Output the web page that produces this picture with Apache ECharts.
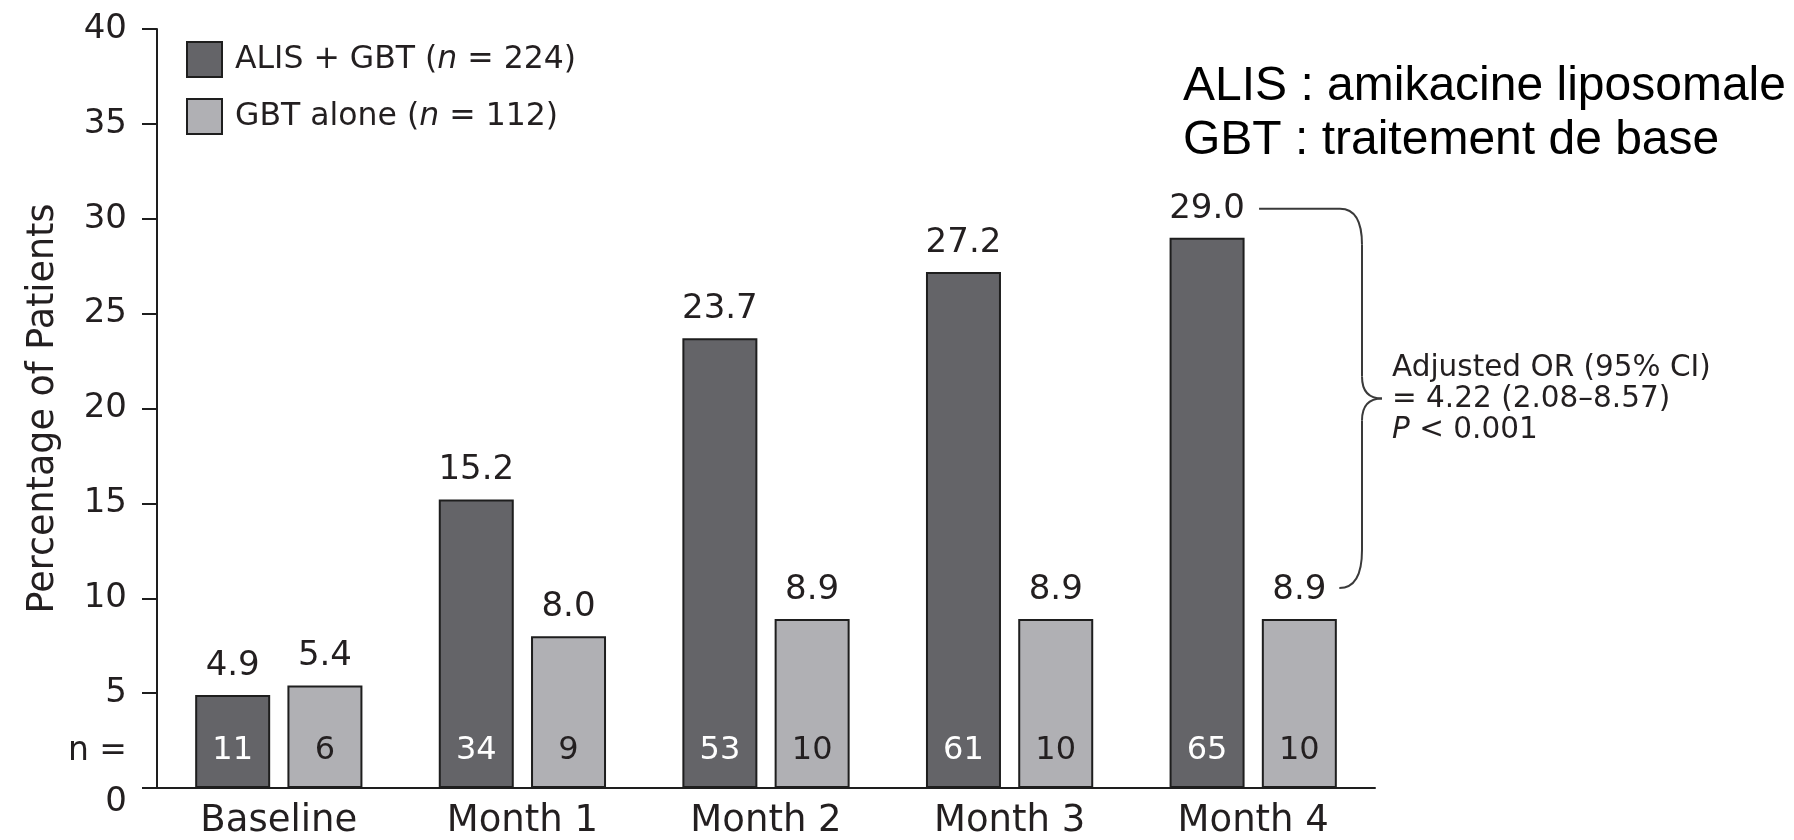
<!DOCTYPE html>
<html>
<head>
<meta charset="utf-8">
<script src="https://cdn.jsdelivr.net/npm/echarts@6/dist/echarts.min.js"></script>
<style>
  html, body { margin: 0; padding: 0; background: #fff; }
  #chart { width: 1794px; height: 840px; }
</style>
</head>
<body>
<div id="chart"></div>
<script>
// Culture conversion by visit, two treatment arms
const categories = ['Baseline', 'Month 1', 'Month 2', 'Month 3', 'Month 4'];
const seriesNames = ['ALIS + GBT', 'GBT alone'];
const groupSizes = [224, 112];
const alisPct = [4.9, 15.2, 23.7, 27.2, 29.0];
const gbtPct = [5.4, 8.0, 8.9, 8.9, 8.9];
const alisN = [11, 34, 53, 61, 65];
const gbtN = [6, 9, 10, 10, 10];
const orLines = ['Adjusted OR (95% CI)', '= 4.22 (2.08\u20138.57)', '{i|P} < 0.001'];
const glossary = ['ALIS : amikacine liposomale', 'GBT : traitement de base'];

const TEXT = '#231f20';
const FONT = '"DejaVu Sans", Verdana, sans-serif';
const NOTE_FONT = '"Liberation Sans", Arial, Helvetica, sans-serif';
const DARK = '#646468';
const LIGHT = '#b0b0b4';
const EDGE = '#1e1e1e';
const FS = 34;          // value labels
const NFS = 32;         // count labels
const VAL_DIST = 12;    // gap between bar top and its value label
const N_DIST = 21;      // gap between axis baseline and the n = row

const chart = echarts.init(document.getElementById('chart'));

// zero-height helper bars that carry the patient counts at the foot of each bar
function countSeries(name, stack, counts, color) {
  return {
    name: name, type: 'bar', stack: stack, z: 4,
    barWidth: 75, barGap: '23%',
    itemStyle: { color: 'rgba(0,0,0,0)', borderWidth: 0 },
    label: {
      show: true, position: 'insideBottom', distance: N_DIST,
      fontFamily: FONT, fontSize: NFS, color: color,
      formatter: p => String(counts[p.dataIndex])
    },
    data: counts.map(() => 0),
    silent: true
  };
}

function pctSeries(name, stack, values, color) {
  return {
    name: name, type: 'bar', stack: stack, z: 2,
    barWidth: 75, barGap: '23%',
    itemStyle: { color: color, borderColor: EDGE, borderWidth: 2 },
    label: {
      show: true, position: 'top', distance: VAL_DIST,
      fontFamily: FONT, fontSize: FS, color: TEXT,
      formatter: p => p.value.toFixed(1)
    },
    data: values
  };
}

const option = {
  animation: false,
  backgroundColor: '#fff',
  textStyle: { fontFamily: FONT, color: TEXT },
  grid: { left: 157, right: 419, top: 29, bottom: 51, containLabel: false },
  legend: {
    data: seriesNames,
    orient: 'vertical', left: 186, top: 41, padding: 0,
    itemWidth: 35, itemHeight: 35, itemGap: 20,
    icon: 'rect',
    itemStyle: { borderColor: EDGE, borderWidth: 2 },
    formatter: name => name + ' ({i|n} = ' + groupSizes[seriesNames.indexOf(name)] + ')',
    textStyle: {
      fontFamily: FONT, fontSize: 31.5, color: TEXT, padding: [0, 0, 0, 8],
      rich: { i: { fontFamily: FONT, fontSize: 31.5, fontStyle: 'italic', color: TEXT } }
    }
  },
  xAxis: {
    type: 'category', data: categories,
    axisLine: { show: true, lineStyle: { color: EDGE, width: 2 } },
    axisTick: { show: false },
    axisLabel: { fontFamily: FONT, fontSize: 37, color: TEXT, margin: 15 }
  },
  yAxis: {
    type: 'value', min: 0, max: 40, interval: 5,
    name: 'Percentage of Patients', nameLocation: 'middle', nameGap: 95,
    nameTextStyle: { fontFamily: FONT, fontSize: 36.5, color: TEXT },
    axisLine: { show: true, lineStyle: { color: EDGE, width: 2 } },
    axisTick: { show: true, inside: false, length: 15, lineStyle: { color: EDGE, width: 2 } },
    splitLine: { show: false },
    axisLabel: {
      fontFamily: FONT, fontSize: 34, color: TEXT, margin: 30,
      formatter: v => v === 0 ? '{z|0}' : String(v),
      rich: { z: { fontFamily: FONT, fontSize: 34, color: TEXT, padding: [28, 0, 0, 0] } }
    }
  },
  series: [
    countSeries('alisCount', 'a', alisN, '#ffffff'),
    pctSeries(seriesNames[0], 'a', alisPct, DARK),
    countSeries('gbtCount', 'b', gbtN, TEXT),
    pctSeries(seriesNames[1], 'b', gbtPct, LIGHT)
  ]
};

chart.setOption(option);

// Odds-ratio brace, placed from the laid-out Month 4 bars
function barLayout(seriesIndex, idx) {
  return chart.getModel().getSeriesByIndex(seriesIndex).getData().getItemLayout(idx);
}
const last = categories.length - 1;
const topBar = barLayout(1, last);
const lowBar = barLayout(3, last);
const y0 = chart.convertToPixel({ yAxisIndex: 0 }, 0);
const gridRect = chart.getModel().getComponent('grid').coordinateSystem.getRect();

const labelOff = VAL_DIST + FS / 2 + 2;
const topY = Math.min(topBar.y, topBar.y + topBar.height) - labelOff + 2;
const lowY = Math.min(lowBar.y, lowBar.y + lowBar.height) - labelOff;
const topStart = topBar.x + topBar.width / 2 + 52;
const lowEnd = lowBar.x + lowBar.width / 2 + 40;
const X = gridRect.x + gridRect.width - 13;
const M = (topY + lowY) / 2;
const braceStyle = { stroke: '#3a3a3a', lineWidth: 2, fill: null };

function seg(x1, y1, x2, y2) {
  return { type: 'line', shape: { x1, y1, x2, y2 }, style: braceStyle, silent: true };
}
function curve(x1, y1, cx, cy, x2, y2) {
  return { type: 'bezierCurve', shape: { x1, y1, x2, y2, cpx1: cx, cpy1: cy }, style: braceStyle, silent: true };
}

const brace = [
  seg(topStart, topY, X - 22, topY),
  curve(X - 22, topY, X, topY, X, topY + 36),
  seg(X, topY + 36, X, M - 22),
  curve(X, M - 22, X, M, X + 20, M),
  curve(X + 20, M, X, M, X, M + 22),
  seg(X, M + 22, X, lowY - 38),
  curve(X, lowY - 38, X, lowY, lowEnd, lowY)
];

const nRowY = y0 - N_DIST - NFS / 2;

chart.setOption({
  graphic: brace.concat([
    {
      type: 'text', x: X + 30, y: M + 1,
      style: {
        text: orLines.join('\n'), fontFamily: FONT, fontSize: 29.5, lineHeight: 31,
        fill: TEXT, verticalAlign: 'middle', align: 'left',
        rich: { i: { fontFamily: FONT, fontSize: 29.5, fontStyle: 'italic', fill: TEXT, lineHeight: 31 } }
      },
      silent: true
    },
    {
      type: 'text', x: gridRect.x - 30, y: nRowY,
      style: { text: 'n =', fontFamily: FONT, fontSize: 33, fill: TEXT, align: 'right', verticalAlign: 'middle' },
      silent: true
    },
    {
      type: 'text', x: 1183, y: 114,
      style: {
        text: glossary.join('\n'), fontFamily: NOTE_FONT, fontSize: 48, lineHeight: 54,
        fill: '#000', verticalAlign: 'middle', align: 'left'
      },
      silent: true
    }
  ])
});
</script>
</body>
</html>
